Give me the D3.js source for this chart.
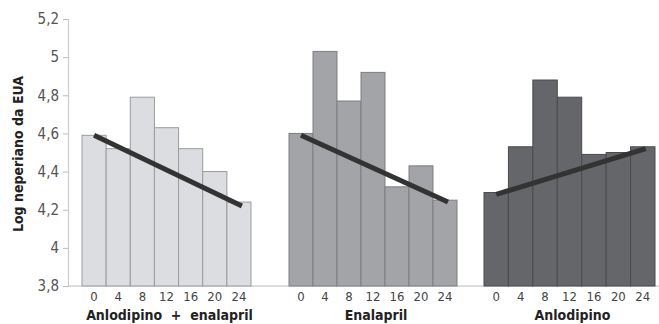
<!DOCTYPE html>
<html lang="pt">
  <head>
  <meta charset="utf-8"/>
    <script type="text/javascript" src="https://cdnjs.cloudflare.com/ajax/libs/d3/7.8.5/d3.min.js"></script>
    <style>
      body { margin: 0; background: #fff; }
      text { font-family: "DejaVu Sans Condensed", "Roboto", sans-serif; }
    </style>
  </head>
  <body>
<svg class="chart"></svg>
    <script type="text/javascript">

// time points (weeks) shown under every group
var times = ["0", "4", "8", "12", "16", "20", "24"];
// group names
var groups = ["Anlodipino  +  enalapril", "Enalapril", "Anlodipino"];
// log values per group
var combo = [4.59, 4.52, 4.79, 4.63, 4.52, 4.40, 4.24];
var enal = [4.60, 5.03, 4.77, 4.92, 4.32, 4.43, 4.25];
var anlo = [4.29, 4.53, 4.88, 4.79, 4.49, 4.50, 4.53];
// trend line ends (value at week 0 and week 24)
var trendCombo = [4.59, 4.22];
var trendEnal = [4.59, 4.24];
var trendAnlo = [4.28, 4.52];
var yTicks = [3.8, 4, 4.2, 4.4, 4.6, 4.8, 5, 5.2];

var width = 659, height = 324;

var svg = d3.select('.chart')
  .attr('width', width)
  .attr('height', height);

var y = d3.scaleLinear()
  .domain([3.8, 5.2])
  .range([286, 19]);

// each group sits in its own horizontal slot
var series = [
  { name: groups[0], values: combo, trend: trendCombo, range: [82, 251], fill: "#dcdde0", stroke: "#9a9b9e" },
  { name: groups[1], values: enal, trend: trendEnal, range: [289, 457], fill: "#a3a4a7", stroke: "#7d7e81" },
  { name: groups[2], values: anlo, trend: trendAnlo, range: [484, 655], fill: "#656669", stroke: "#4a4b4e" }
];

// baseline
svg.append('line')
  .attr('x1', 68).attr('x2', width)
  .attr('y1', y(3.8)).attr('y2', y(3.8))
  .attr('stroke', '#bbb').attr('stroke-width', 1.2);

series.forEach(function(s) {
  var x = d3.scaleBand().domain(times).range(s.range).paddingInner(0);
  var g = svg.append('g');

  g.selectAll('rect')
    .data(s.values)
    .enter()
    .append('rect')
    .attr('x', function(d, i) { return x(times[i]); })
    .attr('y', function(d) { return y(d); })
    .attr('width', x.bandwidth())
    .attr('height', function(d) { return y(3.8) - y(d); })
    .attr('fill', s.fill)
    .attr('stroke', s.stroke)
    .attr('stroke-width', 1);

  // week labels
  g.selectAll('text.t')
    .data(times)
    .enter()
    .append('text')
    .attr('class', 't')
    .attr('x', function(d) { return x(d) + x.bandwidth() / 2; })
    .attr('y', 301)
    .attr('text-anchor', 'middle')
    .attr('font-size', 13)
    .attr('fill', '#444')
    .text(function(d) { return d; });

  // group title
  g.append('text')
    .attr('x', (s.range[0] + s.range[1]) / 2 + 3)
    .attr('y', 320)
    .attr('text-anchor', 'middle')
    .attr('font-size', 14)
    .attr('font-weight', 'bold')
    .attr('fill', '#222')
    .style('white-space', 'pre')
    .text(s.name);

  // trend line, from week 0 to week 24
  var t = d3.scaleLinear().domain([0, 24])
    .range([x("0") + x.bandwidth() / 2, x("24") + x.bandwidth() / 2 + 3]);
  g.append('line')
    .attr('x1', t(0)).attr('x2', t(24))
    .attr('y1', y(s.trend[0])).attr('y2', y(s.trend[1]))
    .attr('stroke', '#333')
    .attr('stroke-width', 5)
    .attr('stroke-linecap', 'butt');
});

// y axis
var yAxis = d3.axisLeft(y)
  .tickValues(yTicks)
  .tickSize(5)
  .tickPadding(4)
  .tickFormat(function(d) { return d3.format('~g')(d).replace('.', ','); });

var ax = svg.append('g')
  .attr('transform', 'translate(68,0)')
  .call(yAxis);
ax.select('.domain').attr('stroke', '#ccc').attr('stroke-width', 1.2);
ax.selectAll('.tick line').attr('stroke', '#bbb');
ax.selectAll('.tick text')
  .attr('font-size', 15)
  .attr('fill', '#555')
  .style('font-family', '"DejaVu Sans Condensed", sans-serif');

svg.append('text')
  .attr('transform', 'translate(23,154) rotate(-90)')
  .attr('text-anchor', 'middle')
  .attr('font-size', 14)
  .attr('font-weight', 'bold')
  .attr('fill', '#222')
  .text('Log neperiano da EUA');

    </script>
  </body>
</html>
